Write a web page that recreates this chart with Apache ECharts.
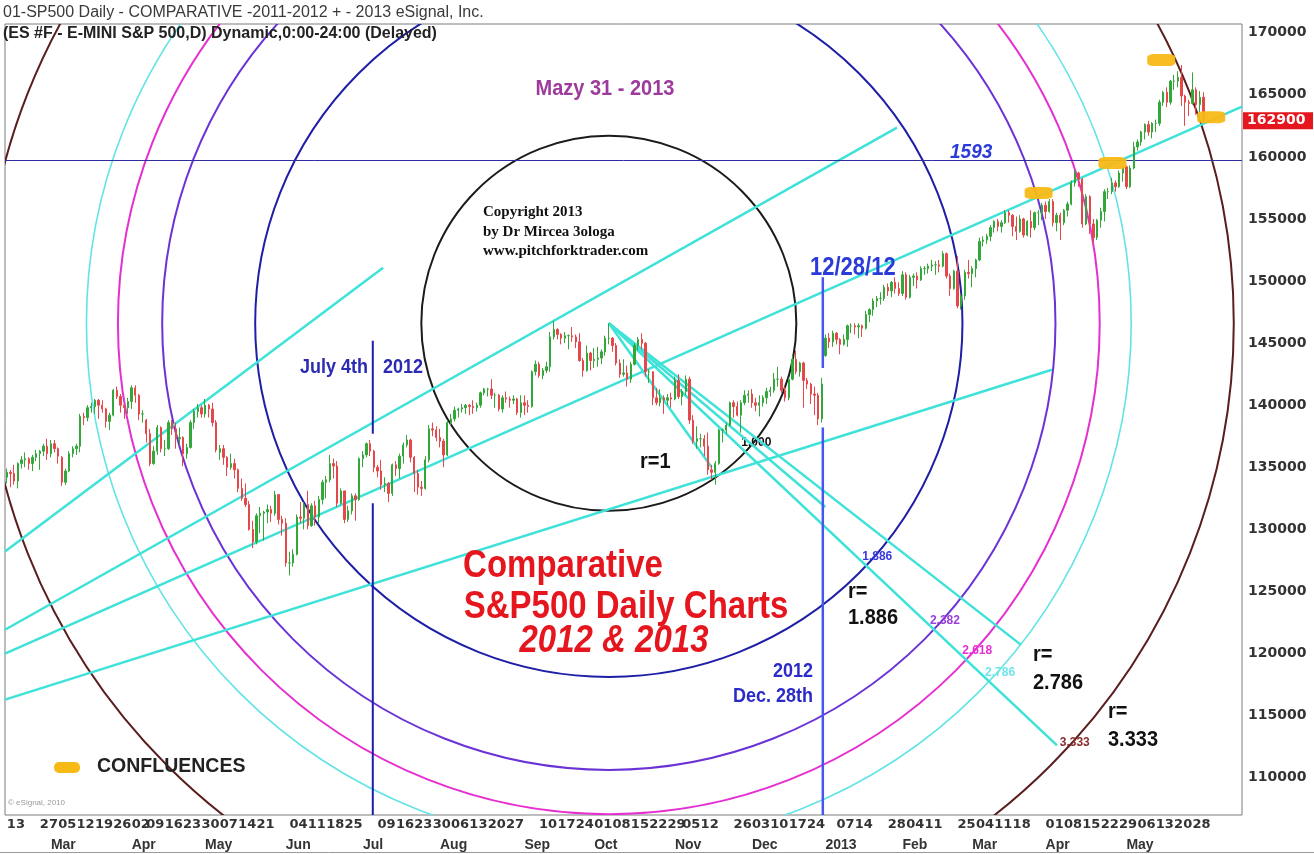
<!DOCTYPE html>
<html><head><meta charset="utf-8">
<script src="https://cdn.jsdelivr.net/npm/echarts@6/dist/echarts.min.js"></script>
<style>html,body{margin:0;padding:0;background:#fff;}#c{width:1314px;height:854px;}</style>
</head><body><div id="c"></div>
<script>
// ---------- DATA (ES points; axis labels show value x 100) ----------
// each bar: [open, close, low, high]
const feb12 = [[1342,1346,1337,1349],[1346,1345,1334,1348],[1345,1339,1336,1352],[1339,1353,1333,1354],[1353,1356,1349,1359],[1356,1357,1350,1362],[1357,1353,1348,1358],[1353,1358,1347,1360],[1358,1361,1355,1364],[1361,1363,1348,1364],[1363,1367,1359,1369],[1367,1361,1356,1373]];
const mar12 = [[1361,1369,1358,1372],[1369,1365,1362,1372],[1365,1359,1353,1366],[1358,1338,1335,1359],[1338,1347,1336,1349],[1347,1361,1346,1363],[1361,1365,1358,1367],[1365,1367,1360,1369],[1367,1391,1362,1393],[1391,1390,1384,1394],[1390,1398,1387,1400],[1398,1399,1394,1402],[1399,1404,1393,1405],[1404,1400,1389,1405],[1400,1397,1394,1404],[1397,1387,1382,1398],[1387,1392,1380,1394],[1392,1412,1391,1413],[1412,1407,1405,1415],[1407,1400,1394,1409],[1400,1398,1389,1401],[1398,1403,1393,1406]];
const apr12 = [[1403,1414,1397,1416],[1414,1408,1402,1416],[1408,1393,1388,1409],[1393,1393,1386,1396],[1388,1377,1370,1389],[1377,1353,1351,1381],[1353,1363,1352,1367],[1363,1382,1360,1384],[1382,1365,1362,1383],[1365,1365,1359,1372],[1365,1386,1364,1388],[1386,1381,1376,1388],[1381,1373,1365,1386],[1373,1374,1368,1382],[1374,1361,1351,1375],[1361,1366,1357,1369],[1366,1386,1365,1388],[1386,1395,1381,1397],[1395,1398,1390,1401],[1398,1393,1390,1400]];
const may12 = [[1393,1400,1390,1405],[1400,1397,1390,1401],[1397,1386,1383,1402],[1386,1364,1362,1388],[1362,1365,1356,1368],[1365,1358,1352,1368],[1358,1350,1343,1359],[1350,1353,1348,1361],[1353,1348,1341,1357],[1348,1333,1330,1349],[1333,1325,1323,1341],[1325,1320,1318,1337],[1320,1300,1299,1323],[1300,1290,1285,1307],[1290,1311,1288,1313],[1311,1313,1297,1318],[1313,1314,1291,1315],[1314,1316,1305,1320],[1316,1313,1306,1319],[1313,1328,1311,1331],[1328,1308,1304,1328],[1308,1305,1295,1311]];
const jun12 = [[1305,1273,1270,1309],[1273,1273,1263,1282],[1273,1280,1270,1284],[1280,1310,1279,1312],[1310,1309,1305,1322],[1309,1320,1300,1322],[1320,1303,1300,1331],[1303,1319,1302,1321],[1319,1310,1303,1323],[1310,1324,1305,1327],[1324,1338,1320,1340],[1338,1340,1325,1343],[1340,1353,1338,1360],[1353,1351,1341,1357],[1351,1321,1318,1355],[1321,1331,1320,1333],[1331,1308,1305,1331],[1308,1315,1306,1319],[1315,1327,1312,1329],[1327,1324,1307,1329],[1324,1357,1323,1358]];
const jul12 = [[1357,1360,1350,1363],[1360,1369,1358,1370],[1369,1363,1359,1372],[1363,1350,1346,1364],[1350,1347,1342,1352],[1347,1336,1332,1356],[1336,1337,1330,1342],[1337,1329,1322,1338],[1329,1352,1327,1353],[1352,1349,1343,1355],[1349,1359,1341,1361],[1359,1368,1353,1370],[1368,1372,1366,1376],[1372,1358,1354,1373],[1358,1345,1330,1359],[1345,1334,1328,1348],[1334,1333,1327,1339],[1333,1356,1332,1359],[1356,1381,1354,1384],[1381,1380,1375,1386],[1380,1374,1371,1383]];
const aug12 = [[1374,1371,1366,1381],[1371,1360,1350,1373],[1360,1386,1359,1388],[1386,1389,1384,1393],[1389,1396,1387,1399],[1396,1397,1390,1398],[1397,1398,1394,1401],[1398,1400,1393,1401],[1400,1399,1392,1401],[1399,1398,1393,1404],[1398,1400,1395,1402],[1400,1410,1398,1411],[1410,1413,1408,1414],[1413,1413,1407,1414],[1413,1408,1405,1421],[1408,1408,1398,1410],[1408,1397,1395,1409],[1397,1406,1394,1408],[1406,1405,1402,1411],[1405,1404,1398,1407],[1404,1405,1401,1408],[1405,1394,1392,1406],[1394,1402,1390,1408]];
const sep12 = [[1402,1400,1392,1408],[1400,1399,1394,1404],[1399,1427,1398,1428],[1427,1433,1424,1436],[1433,1424,1422,1435],[1424,1428,1421,1430],[1428,1431,1426,1435],[1431,1455,1427,1459],[1455,1461,1453,1468],[1461,1457,1453,1462],[1457,1454,1449,1458],[1454,1456,1450,1459],[1456,1456,1445,1457],[1456,1455,1451,1463],[1455,1451,1446,1457],[1451,1436,1435,1458],[1436,1428,1423,1438],[1428,1442,1427,1448],[1442,1436,1428,1443]];
const oct12 = [[1436,1437,1430,1446],[1437,1438,1431,1447],[1438,1443,1433,1445],[1443,1454,1440,1456],[1454,1454,1449,1466],[1454,1448,1443,1455],[1448,1434,1432,1450],[1434,1425,1422,1437],[1425,1426,1423,1437],[1426,1421,1415,1432],[1421,1433,1418,1435],[1433,1448,1432,1450],[1448,1453,1444,1455],[1453,1450,1445,1458],[1450,1427,1423,1451],[1427,1427,1418,1429],[1427,1406,1400,1427],[1406,1402,1400,1414],[1402,1406,1399,1413],[1406,1404,1393,1408],[1404,1406,1400,1409],[1406,1405,1398,1410]];
const nov12 = [[1405,1420,1404,1423],[1420,1407,1405,1425],[1407,1411,1400,1413],[1411,1421,1408,1424],[1421,1388,1385,1423],[1388,1371,1369,1392],[1371,1373,1365,1383],[1373,1373,1366,1377],[1373,1367,1359,1376],[1367,1348,1344,1378],[1348,1346,1340,1352],[1346,1353,1336,1355],[1353,1380,1352,1381],[1380,1380,1370,1381],[1380,1384,1377,1386],[1384,1402,1383,1403],[1402,1399,1390,1404],[1399,1392,1391,1403],[1392,1402,1378,1404],[1402,1408,1400,1412],[1408,1409,1402,1412]];
const dec12 = [[1409,1402,1398,1413],[1402,1400,1395,1406],[1400,1402,1391,1408],[1402,1406,1399,1408],[1406,1411,1401,1414],[1411,1412,1407,1415],[1412,1421,1410,1426],[1421,1421,1415,1431],[1421,1412,1410,1423],[1412,1406,1403,1415],[1406,1421,1404,1422],[1421,1437,1420,1441],[1437,1427,1425,1444],[1427,1434,1423,1435],[1434,1420,1398,1435],[1420,1417,1413,1422],[1417,1409,1401,1418],[1409,1408,1392,1415],[1408,1389,1384,1410],[1389,1417,1386,1422]];
const jan13 = [[1440,1454,1439,1457],[1454,1451,1446,1458],[1451,1458,1447,1460],[1458,1453,1449,1459],[1453,1449,1441,1454],[1449,1453,1448,1457],[1453,1464,1447,1465],[1464,1464,1458,1466],[1464,1463,1457,1466],[1463,1464,1454,1466],[1464,1462,1455,1465],[1462,1473,1461,1476],[1473,1477,1467,1478],[1477,1484,1472,1486],[1484,1486,1479,1488],[1486,1486,1481,1491],[1486,1495,1484,1497],[1495,1492,1488,1498],[1492,1499,1487,1500],[1499,1494,1490,1503],[1494,1490,1488,1499]];
const feb13 = [[1490,1505,1488,1508],[1505,1487,1485,1507],[1487,1503,1486,1505],[1503,1504,1496,1506],[1504,1501,1494,1507],[1501,1510,1500,1512],[1510,1510,1505,1512],[1510,1512,1506,1514],[1512,1513,1508,1517],[1513,1513,1505,1516],[1513,1512,1507,1517],[1512,1522,1511,1524],[1522,1504,1502,1523],[1504,1494,1488,1506],[1494,1508,1493,1509],[1508,1480,1478,1520],[1480,1488,1477,1490],[1488,1507,1485,1509],[1507,1506,1502,1517]];
const mar13 = [[1506,1510,1495,1512],[1510,1517,1503,1518],[1517,1532,1516,1535],[1532,1533,1528,1536],[1533,1536,1530,1538],[1536,1543,1532,1545],[1543,1548,1539,1549],[1548,1544,1540,1550],[1544,1547,1539,1549],[1547,1555,1546,1557],[1555,1553,1547,1557],[1553,1544,1536,1554],[1544,1540,1533,1552],[1540,1550,1539,1553],[1550,1537,1535,1551],[1537,1548,1536,1549],[1548,1543,1535,1557],[1543,1555,1541,1556],[1555,1555,1545,1557],[1555,1561,1549,1563]];
const apr13 = [[1561,1556,1550,1564],[1556,1564,1555,1566],[1564,1547,1544,1566],[1547,1553,1540,1555],[1553,1547,1533,1555],[1547,1557,1545,1558],[1557,1562,1552,1564],[1562,1579,1561,1581],[1579,1587,1576,1590],[1587,1582,1576,1588],[1582,1546,1543,1583],[1546,1568,1545,1570],[1568,1546,1538,1569],[1546,1535,1530,1550],[1535,1549,1533,1550],[1549,1556,1543,1559],[1556,1572,1548,1574],[1572,1572,1566,1575],[1572,1579,1570,1583],[1579,1576,1572,1581],[1576,1587,1575,1589],[1587,1592,1580,1593]];
const may13 = [[1592,1576,1574,1593],[1576,1591,1575,1593],[1591,1608,1590,1612],[1608,1612,1605,1614],[1612,1620,1609,1621],[1620,1626,1614,1627],[1626,1620,1617,1629],[1620,1627,1615,1628],[1627,1627,1620,1630],[1627,1644,1625,1646],[1644,1652,1641,1653],[1652,1644,1640,1656],[1644,1661,1642,1662],[1661,1661,1654,1666],[1661,1664,1656,1669],[1664,1649,1641,1674],[1649,1644,1625,1650],[1644,1643,1633,1646],[1643,1654,1642,1668],[1654,1642,1634,1656],[1642,1648,1636,1653],[1648,1629,1628,1652]];

const holidays = ['2012-02-20','2012-04-06','2012-05-28','2012-07-04','2012-09-03','2012-10-30','2012-11-22','2012-12-25','2013-01-01','2013-01-21','2013-02-18','2013-03-29','2013-05-27'];
const firstDay = '2012-02-13', lastDay = '2013-06-14';

// tick labels (bottom rows)
const weekLabelDates = ['2012-02-13','2012-02-27','2012-03-05','2012-03-12','2012-03-19','2012-03-26','2012-04-02','2012-04-09','2012-04-16','2012-04-23','2012-04-30','2012-05-07','2012-05-14','2012-05-21','2012-06-04','2012-06-11','2012-06-18','2012-06-25','2012-07-09','2012-07-16','2012-07-23','2012-07-30','2012-08-06','2012-08-13','2012-08-20','2012-08-27','2012-09-10','2012-09-17','2012-09-24','2012-10-01','2012-10-08','2012-10-15','2012-10-22','2012-10-29','2012-11-05','2012-11-12','2012-11-26','2012-12-03','2012-12-10','2012-12-17','2012-12-24','2013-01-07','2013-01-14','2013-01-28','2013-02-04','2013-02-11','2013-02-25','2013-03-04','2013-03-11','2013-03-18','2013-04-01','2013-04-08','2013-04-15','2013-04-22','2013-04-29','2013-05-06','2013-05-13','2013-05-20','2013-05-28'];
const monthLabelDates = ['2012-03-01','2012-04-02','2012-05-01','2012-06-01','2012-07-02','2012-08-01','2012-09-04','2012-10-01','2012-11-01','2012-12-03','2013-01-02','2013-02-01','2013-03-01','2013-04-01','2013-05-01'];
const monthLabelTexts = ['Mar','Apr','May','Jun','Jul','Aug','Sep','Oct','Nov','Dec','2013','Feb','Mar','Apr','May'];
const yLabelStep = 50;

// drawing-tool annotations (bar index, price)
const fanCenter = [164, 1466];          // Oct 5 2012 high
const fanUnit = 151;                    // r = 1 in price points
const circleRatios = [1, 1.886, 2.382, 2.618, 2.786, 3.333];
const circleTexts = ['1.000','1.886','2.382','2.618','2.786','3.333'];
const fanEnds = [[286.1, 1126], [276.3, 1207], [223, 1318], [192, 1350]];
const trendLines = [
  [[-0.5, 1282.1], [102.5, 1510.8]],
  [[-0.5, 1219.2], [242.5, 1623.5]],
  [[-0.5, 1199.9], [336.5, 1640.4]],
  [[-0.5, 1162.9], [284.7, 1428.6]]
];
const level1593 = 1597;
const julyLine = [99.7, [[1452, 1377], [1321, 1070]]];
const decLine = [222.3, [[1503, 1430], [1382, 1070]]];
const confluences = [[314.5, 1678], [328.1, 1632], [301.2, 1595], [281.1, 1571]];

// ---------- BUILD ----------
const dates = [];
{
  let t = Date.parse(firstDay + 'T00:00:00Z'); const end = Date.parse(lastDay + 'T00:00:00Z');
  while (t <= end) { const d = new Date(t); const wd = d.getUTCDay(); const s = d.toISOString().slice(0,10);
    if (wd > 0 && wd < 6 && holidays.indexOf(s) < 0) dates.push(s); t += 86400000; }
}
const bars = [].concat(feb12, mar12, apr12, may12, jun12, jul12, aug12, sep12, oct12, nov12, dec12, jan13, feb13, mar13, apr13, may13);
const N = dates.length;
const lastClose = bars[bars.length - 1][1];
const weekSet = new Set(weekLabelDates);
const monthMap = {}; monthLabelDates.forEach((d, i) => monthMap[d] = monthLabelTexts[i]);

const SANS = "'Liberation Sans', Arial, Helvetica, sans-serif";
const WIDE = "'DejaVu Sans', Verdana, sans-serif";
const SERIF = "'Liberation Serif', 'Times New Roman', serif";
const circleColors = ['#1b1b1b', '#1e1ea6', '#6b33d6', '#e52fd0', '#62e4e6', '#5a1e1e'];
const circleWidths = [2, 2, 2, 2, 1.6, 2];
const labelColors = ['#111111', '#3838e0', '#9a3fd8', '#e52fd0', '#6fe6ea', '#8a2c2c'];
const CYAN = '#3fe2d8';

const chart = echarts.init(document.getElementById('c'), null, {renderer: 'canvas'});

const lineSeries = [];
trendLines.forEach(seg => lineSeries.push({type: 'line', xAxisIndex: 1, data: seg, symbol: 'none', silent: true,
  lineStyle: {color: CYAN, width: 2.5}, z: 3, animation: false}));
fanEnds.forEach(end => lineSeries.push({type: 'line', xAxisIndex: 1, data: [fanCenter, end], symbol: 'none', silent: true,
  lineStyle: {color: CYAN, width: 2.5}, z: 3, animation: false}));
function vline(spec, color, width) {
  const x = spec[0]; const d = [];
  spec[1].forEach((s, i) => { if (i) d.push([x, '-']); d.push([x, s[0]]); d.push([x, s[1]]); });
  return {type: 'line', xAxisIndex: 1, data: d, symbol: 'none', silent: true, connectNulls: false,
    lineStyle: {color: color, width: width}, z: 4, animation: false};
}
lineSeries.push(vline(julyLine, '#1c1cae', 2));
lineSeries.push(vline(decLine, '#4656ee', 2.5));

function txt(x, y, text, fill, font, align, sy) {
  return {type: 'text', x: x, y: y, z: 100, scaleY: sy || 1, originY: 0,
    style: {text: text, fill: fill, font: font, textAlign: align || 'left', textVerticalAlign: 'middle'}};
}

const graphics = [
  txt(3, 13, '01-SP500 Daily - COMPARATIVE -2011-2012 + - 2013 eSignal, Inc.', '#3a3a3a', '16px ' + SANS),
  txt(3, 34, '(ES #F - E-MINI S&P 500,D) Dynamic,0:00-24:00 (Delayed)', '#222', 'bold 16px ' + SANS),
  txt(605, 89, 'Mazy 31 - 2013', '#9c3b9c', 'bold 20px ' + SANS, 'center', 1.1),
  txt(483, 212, 'Copyright 2013', '#111', 'bold 15px ' + SERIF),
  txt(483, 232, 'by Dr Mircea 3ologa', '#111', 'bold 15px ' + SERIF),
  txt(483, 251, 'www.pitchforktrader.com', '#111', 'bold 15px ' + SERIF),
  txt(368, 368, 'July 4th', '#2a2ab4', 'bold 18px ' + SANS, 'right', 1.1),
  txt(383, 368, '2012', '#2a2ab4', 'bold 18px ' + SANS, 'left', 1.1),
  txt(810, 268, '12/28/12', '#2b3bd8', 'bold 22px ' + SANS, 'left', 1.15),
  txt(950, 152, '1593', '#2b3bd8', 'italic bold 19px ' + SANS, 'left', 1.1),
  txt(640, 462, 'r=1', '#111', 'bold 20px ' + SANS, 'left', 1.1),
  txt(563, 566, 'Comparative', '#e5161d', 'bold 33px ' + SANS, 'center', 1.2),
  txt(626, 607, 'S&P500 Daily Charts', '#e5161d', 'bold 33px ' + SANS, 'center', 1.2),
  txt(614, 641, '2012 & 2013', '#e5161d', 'italic bold 33px ' + SANS, 'center', 1.2),
  txt(848, 592, 'r=', '#111', 'bold 20px ' + SANS, 'left', 1.1),
  txt(848, 618, '1.886', '#111', 'bold 20px ' + SANS, 'left', 1.1),
  txt(1033, 655, 'r=', '#111', 'bold 20px ' + SANS, 'left', 1.1),
  txt(1033, 683, '2.786', '#111', 'bold 20px ' + SANS, 'left', 1.1),
  txt(1108, 712, 'r=', '#111', 'bold 20px ' + SANS, 'left', 1.1),
  txt(1108, 740, '3.333', '#111', 'bold 20px ' + SANS, 'left', 1.1),
  txt(813, 672, '2012', '#2b2bc8', 'bold 18px ' + SANS, 'right', 1.1),
  txt(813, 697, 'Dec. 28th', '#2b2bc8', 'bold 18px ' + SANS, 'right', 1.1),
  {type: 'rect', x: 54, y: 762, z: 100, shape: {width: 26, height: 11, r: 5}, style: {fill: '#f7b916'}},
  txt(97, 766, 'CONFLUENCES', '#222', 'bold 19.5px ' + SANS, 'left', 1.05),
  txt(8, 803, '© eSignal, 2010', '#9a9a9a', '8px ' + SANS),
  {type: 'line', z: 100, shape: {x1: 0, y1: 852.5, x2: 1314, y2: 852.5}, style: {stroke: '#9a9a9a', lineWidth: 1}}
];

const option = {
  animation: false,
  backgroundColor: '#ffffff',
  grid: {left: 5, right: 72, top: 24, bottom: 39, show: true, borderColor: '#7d7d7d', borderWidth: 1, backgroundColor: 'transparent'},
  xAxis: [
    {type: 'category', data: dates, boundaryGap: true, position: 'bottom',
      axisLine: {show: false}, axisTick: {show: false}, splitLine: {show: false},
      axisLabel: {interval: 0, align: 'left', margin: 3, fontFamily: WIDE, fontWeight: 'bold', fontSize: 13, color: '#333',
        formatter: v => weekSet.has(v) ? v.slice(8) : ''}},
    {type: 'value', min: -0.5, max: N - 0.5, show: false},
    {type: 'category', data: dates, boundaryGap: true, position: 'bottom', offset: 20,
      axisLine: {show: false}, axisTick: {show: false}, splitLine: {show: false},
      axisLabel: {interval: 0, align: 'left', margin: 3, fontFamily: SANS, fontWeight: 'bold', fontSize: 14, color: '#333',
        formatter: v => monthMap[v] || ''}}
  ],
  yAxis: [{type: 'value', position: 'right', min: 1070, max: 1707, interval: 5, scale: false,
    axisLine: {show: false}, axisTick: {show: false}, splitLine: {show: false},
    axisLabel: {margin: 6, fontFamily: WIDE, fontWeight: 'bold', fontSize: 14, color: '#333',
      formatter: v => (Math.round(v) % yLabelStep === 0) ? String(Math.round(v) * 100) : ''}}],
  series: [
    {type: 'custom', xAxisIndex: 1, yAxisIndex: 0, clip: true, silent: true, z: 2,
      data: circleRatios.map((r, i) => [fanCenter[0], fanCenter[1], r, i]),
      renderItem: function (params, api) {
        const cs = params.coordSys;
        const c = api.coord([api.value(0), api.value(1)]);
        const rr = c[1] - api.coord([api.value(0), api.value(1) + fanUnit * api.value(2)])[1];
        const e = api.coord(fanEnds[0]);
        const dx = e[0] - c[0], dy = e[1] - c[1], L = Math.sqrt(dx * dx + dy * dy);
        const px = c[0] + dx / L * rr, py = c[1] + dy / L * rr;
        const i = api.value(3);
        return {type: 'group', clipPath: {type: 'rect', shape: {x: cs.x, y: cs.y, width: cs.width, height: cs.height}},
          children: [
            {type: 'circle', shape: {cx: c[0], cy: c[1], r: rr}, style: {fill: 'none', stroke: circleColors[i], lineWidth: circleWidths[i]}},
            {type: 'text', x: px - 4, y: py - 9, style: {text: circleTexts[i], fill: labelColors[i], font: 'bold 12px ' + SANS, textAlign: 'left', textVerticalAlign: 'middle'}}
          ]};
      }},
    ...lineSeries,
    {type: 'candlestick', xAxisIndex: 0, yAxisIndex: 0, data: bars, barMaxWidth: 3, barMinWidth: 1, z: 5,
      itemStyle: {color: '#33a83a', color0: '#e5474a', borderColor: '#33a83a', borderColor0: '#e5474a', borderWidth: 1},
      markLine: {silent: true, symbol: 'none', animation: false,
        data: [{yAxis: level1593, lineStyle: {color: '#2d2d9e', width: 1, type: 'solid'}, label: {show: false}}]}},
    {type: 'scatter', xAxisIndex: 1, yAxisIndex: 0, data: confluences, symbol: 'roundRect', symbolSize: [28, 12],
      itemStyle: {color: '#f7b916', opacity: 0.95}, silent: true, z: 6}
  ],
  graphic: graphics
};
chart.setOption(option);

// last-price tag on the price axis, placed through the axis scale
const tagY = chart.convertToPixel({yAxisIndex: 0}, lastClose);
const gridRight = chart.getWidth() - option.grid.right;
graphics.push({type: 'rect', x: gridRight + 1, y: tagY - 8.5, z: 100, shape: {width: 70, height: 17}, style: {fill: '#e5161d'}});
graphics.push({type: 'text', x: gridRight + 5, y: tagY, z: 101,
  style: {text: String(lastClose * 100), fill: '#ffffff', font: 'bold 14px ' + WIDE, textVerticalAlign: 'middle'}});
option.graphic = graphics;
chart.setOption(option, true);
</script></body></html>
